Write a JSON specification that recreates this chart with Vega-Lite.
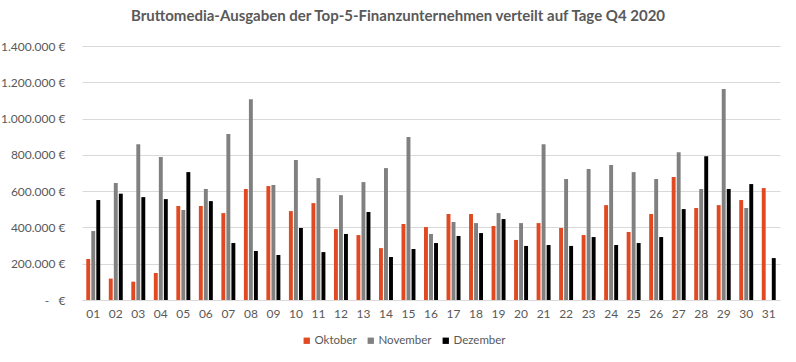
{
  "$schema": "https://vega.github.io/schema/vega-lite/v6.json",
  "width": 698,
  "height": 254,
  "autosize": "none",
  "padding": {"left": 82, "top": 46, "right": 16, "bottom": 62},
  "background": "white",
  "title": {
    "text": "Bruttomedia-Ausgaben der Top-5-Finanzunternehmen verteilt auf Tage Q4 2020",
    "font": "Lato",
    "fontSize": 15,
    "fontWeight": "bold",
    "color": "#595959",
    "anchor": "middle",
    "offset": 16,
    "dx": -33
  },
  "data": {
    "values": [
      {"day": "01", "month": "Oktober", "value": 226000}, {"day": "01", "month": "November", "value": 380000}, {"day": "01", "month": "Dezember", "value": 551000},
      {"day": "02", "month": "Oktober", "value": 118000}, {"day": "02", "month": "November", "value": 645000}, {"day": "02", "month": "Dezember", "value": 586000},
      {"day": "03", "month": "Oktober", "value": 101000}, {"day": "03", "month": "November", "value": 859000}, {"day": "03", "month": "Dezember", "value": 567000},
      {"day": "04", "month": "Oktober", "value": 149000}, {"day": "04", "month": "November", "value": 788000}, {"day": "04", "month": "Dezember", "value": 556000},
      {"day": "05", "month": "Oktober", "value": 518000}, {"day": "05", "month": "November", "value": 496000}, {"day": "05", "month": "Dezember", "value": 705000},
      {"day": "06", "month": "Oktober", "value": 518000}, {"day": "06", "month": "November", "value": 612000}, {"day": "06", "month": "Dezember", "value": 545000},
      {"day": "07", "month": "Oktober", "value": 479000}, {"day": "07", "month": "November", "value": 915000}, {"day": "07", "month": "Dezember", "value": 314000},
      {"day": "08", "month": "Oktober", "value": 612000}, {"day": "08", "month": "November", "value": 1107000}, {"day": "08", "month": "Dezember", "value": 270000},
      {"day": "09", "month": "Oktober", "value": 628000}, {"day": "09", "month": "November", "value": 634000}, {"day": "09", "month": "Dezember", "value": 248000},
      {"day": "10", "month": "Oktober", "value": 490000}, {"day": "10", "month": "November", "value": 771000}, {"day": "10", "month": "Dezember", "value": 397000},
      {"day": "11", "month": "Oktober", "value": 534000}, {"day": "11", "month": "November", "value": 672000}, {"day": "11", "month": "Dezember", "value": 264000},
      {"day": "12", "month": "Oktober", "value": 391000}, {"day": "12", "month": "November", "value": 578000}, {"day": "12", "month": "Dezember", "value": 364000},
      {"day": "13", "month": "Oktober", "value": 358000}, {"day": "13", "month": "November", "value": 650000}, {"day": "13", "month": "Dezember", "value": 485000},
      {"day": "14", "month": "Oktober", "value": 286000}, {"day": "14", "month": "November", "value": 727000}, {"day": "14", "month": "Dezember", "value": 237000},
      {"day": "15", "month": "Oktober", "value": 419000}, {"day": "15", "month": "November", "value": 898000}, {"day": "15", "month": "Dezember", "value": 281000},
      {"day": "16", "month": "Oktober", "value": 402000}, {"day": "16", "month": "November", "value": 364000}, {"day": "16", "month": "Dezember", "value": 314000},
      {"day": "17", "month": "Oktober", "value": 474000}, {"day": "17", "month": "November", "value": 430000}, {"day": "17", "month": "Dezember", "value": 353000},
      {"day": "18", "month": "Oktober", "value": 474000}, {"day": "18", "month": "November", "value": 424000}, {"day": "18", "month": "Dezember", "value": 369000},
      {"day": "19", "month": "Oktober", "value": 408000}, {"day": "19", "month": "November", "value": 479000}, {"day": "19", "month": "Dezember", "value": 446000},
      {"day": "20", "month": "Oktober", "value": 331000}, {"day": "20", "month": "November", "value": 424000}, {"day": "20", "month": "Dezember", "value": 298000},
      {"day": "21", "month": "Oktober", "value": 424000}, {"day": "21", "month": "November", "value": 859000}, {"day": "21", "month": "Dezember", "value": 303000},
      {"day": "22", "month": "Oktober", "value": 397000}, {"day": "22", "month": "November", "value": 667000}, {"day": "22", "month": "Dezember", "value": 298000},
      {"day": "23", "month": "Oktober", "value": 358000}, {"day": "23", "month": "November", "value": 722000}, {"day": "23", "month": "Dezember", "value": 347000},
      {"day": "24", "month": "Oktober", "value": 523000}, {"day": "24", "month": "November", "value": 744000}, {"day": "24", "month": "Dezember", "value": 303000},
      {"day": "25", "month": "Oktober", "value": 375000}, {"day": "25", "month": "November", "value": 705000}, {"day": "25", "month": "Dezember", "value": 314000},
      {"day": "26", "month": "Oktober", "value": 474000}, {"day": "26", "month": "November", "value": 667000}, {"day": "26", "month": "Dezember", "value": 347000},
      {"day": "27", "month": "Oktober", "value": 678000}, {"day": "27", "month": "November", "value": 815000}, {"day": "27", "month": "Dezember", "value": 501000},
      {"day": "28", "month": "Oktober", "value": 507000}, {"day": "28", "month": "November", "value": 612000}, {"day": "28", "month": "Dezember", "value": 793000},
      {"day": "29", "month": "Oktober", "value": 523000}, {"day": "29", "month": "November", "value": 1163000}, {"day": "29", "month": "Dezember", "value": 612000},
      {"day": "30", "month": "Oktober", "value": 551000}, {"day": "30", "month": "November", "value": 507000}, {"day": "30", "month": "Dezember", "value": 639000},
      {"day": "31", "month": "Oktober", "value": 617000}, {"day": "31", "month": "Dezember", "value": 231000}
    ]
  },
  "mark": {"type": "bar"},
  "encoding": {
    "x": {
      "field": "day",
      "type": "nominal",
      "sort": null,
      "scale": {"paddingInner": 0.38, "paddingOuter": 0.19},
      "axis": {
        "title": null,
        "labelAngle": 0,
        "ticks": false,
        "domainColor": "#D9D9D9",
        "labelFont": "Lato",
        "labelFontSize": 12,
        "labelColor": "#595959",
        "labelPadding": 8
      }
    },
    "xOffset": {
      "field": "month",
      "type": "nominal",
      "sort": ["Oktober", "November", "Dezember"],
      "scale": {"paddingInner": 0.22}
    },
    "y": {
      "field": "value",
      "type": "quantitative",
      "scale": {"domain": [0, 1400000], "nice": false},
      "axis": {
        "title": null,
        "values": [0, 200000, 400000, 600000, 800000, 1000000, 1200000, 1400000],
        "labelExpr": "datum.value == 0 ? '- \u00a0 €' : replace(replace(format(datum.value, ','), ',', '.'), ',', '.') + ' €'",
        "domain": false,
        "ticks": false,
        "gridColor": "#D9D9D9",
        "labelFont": "Lato",
        "labelFontSize": 12,
        "labelColor": "#595959",
        "labelPadding": 17
      }
    },
    "color": {
      "field": "month",
      "type": "nominal",
      "sort": ["Oktober", "November", "Dezember"],
      "scale": {"domain": ["Oktober", "November", "Dezember"], "range": ["#E04A23", "#808080", "#000000"]},
      "legend": {
        "title": null,
        "orient": "none",
        "legendX": 219,
        "legendY": 289,
        "direction": "horizontal",
        "symbolType": "square",
        "symbolSize": 40,
        "symbolStrokeWidth": 0,
        "labelOffset": 2,
        "labelFont": "Lato",
        "labelFontSize": 11.5,
        "labelColor": "#595959",
        "columnPadding": 8,
        "gridAlign": "none"
      }
    }
  },
  "config": {
    "view": {"stroke": null}
  }
}
